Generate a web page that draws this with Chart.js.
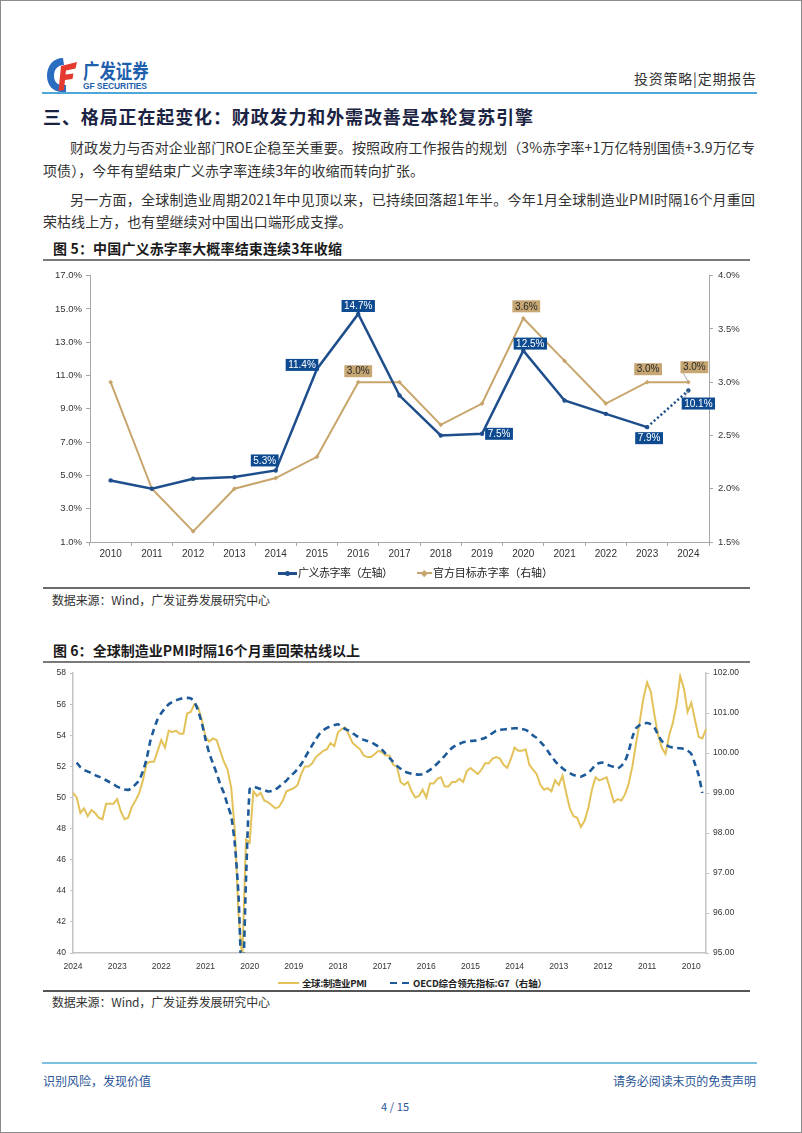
<!DOCTYPE html>
<html><head><meta charset="utf-8">
<script src="https://cdn.jsdelivr.net/npm/chart.js@4.4.1/dist/chart.umd.min.js"></script>
<style>
html,body{margin:0;padding:0;background:#fff;}
body{width:802px;height:1133px;position:relative;overflow:hidden;font-family:"Noto Sans CJK SC","Noto Sans",sans-serif;color:#333;}
.frame{position:absolute;left:0;top:0;width:800px;height:1131px;border:1px solid #8c8c8c;}
.t{position:absolute;white-space:nowrap;}
.hl{position:absolute;}
canvas{position:absolute;}
</style></head>
<body>
<div class="frame"></div>

<!-- header -->
<svg style="position:absolute;left:46px;top:57px" width="32" height="36" viewBox="0 0 32 36">
  <path d="M17 1 C7 1 1 9 1 19 C1 28 7 35 16 35 L20 35 L20 28 L16 28 C11 28 8 24 8 19 C8 12 12 8 18 8 Z" fill="#2a6cc0"/>
  <path d="M15 9 L31 5 L29.5 11.5 L20 13.5 L19.5 17.5 L27.5 16.5 L26.5 22 L19 23 L18 33 L12.5 34 Z" fill="#e53a2f"/>
</svg>
<div class="t" style="left:83px;top:61px;font-size:20px;line-height:20px;font-weight:700;color:#1f5fae;transform:scaleX(0.82);transform-origin:0 0;">广发证券</div>
<div class="t" data-w="64" style="left:83px;top:82px;font-size:8.5px;line-height:9px;font-weight:700;color:#1f5fae;font-family:'Liberation Sans',Arial,sans-serif;">GF SECURITIES</div>
<div class="t" data-w="122" style="left:634px;top:71px;font-size:14px;line-height:14px;color:#333;">投资策略|定期报告</div>
<div class="hl" style="left:42px;top:92px;width:715px;height:2px;background:#4fa6d8;"></div>

<div class="t" data-w="490" style="left:43px;top:107px;font-size:18px;line-height:18px;font-weight:700;color:#1b2342;">三、格局正在起变化：财政发力和外需改善是本轮复苏引擎</div>

<div class="t" data-w="685" style="left:70px;top:140px;font-size:14px;line-height:14px;">财政发力与否对企业部门ROE企稳至关重要。按照政府工作报告的规划（3%赤字率+1万亿特别国债+3.9万亿专</div>
<div class="t" data-w="381" style="left:43px;top:163px;font-size:14px;line-height:14px;">项债），今年有望结束广义赤字率连续3年的收缩而转向扩张。</div>
<div class="t" data-w="685" style="left:70px;top:192px;font-size:14px;line-height:14px;">另一方面，全球制造业周期2021年中见顶以来，已持续回落超1年半。今年1月全球制造业PMI时隔16个月重回</div>
<div class="t" data-w="309" style="left:43px;top:214px;font-size:14px;line-height:14px;">荣枯线上方，也有望继续对中国出口端形成支撑。</div>

<!-- figure 5 -->
<div class="t" data-w="289" style="left:53px;top:241px;font-size:14px;line-height:14px;font-weight:700;color:#1a1a1a;">图 5：中国广义赤字率大概率结束连续3年收缩</div>
<div class="hl" style="left:43px;top:259px;width:707px;height:1.5px;background:#7a7a7a;"></div>
<canvas id="c1" width="708" height="300" style="left:42px;top:265px;width:708px;height:300px;"></canvas>
<div class="hl" style="left:278px;top:572px;width:19px;height:2.5px;background:#1f4e8d;"></div>
<div class="hl" style="left:285px;top:570.5px;width:5px;height:5px;border-radius:50%;background:#1f4e8d;"></div>
<div class="t" data-w="95" style="left:298px;top:567px;font-size:11px;line-height:11px;color:#222;">广义赤字率（左轴）</div>
<div class="hl" style="left:417px;top:572px;width:15px;height:2px;background:#c8a56c;"></div>
<div class="hl" style="left:422px;top:570.5px;width:4.5px;height:4.5px;transform:rotate(45deg);background:#c8a56c;"></div>
<div class="t" data-w="120" style="left:433px;top:567px;font-size:11px;line-height:11px;color:#222;">官方目标赤字率（右轴）</div>
<div class="hl" style="left:43px;top:587px;width:707px;height:1.5px;background:#6a6a6a;"></div>
<div class="t" data-w="218" style="left:52px;top:594px;font-size:12px;line-height:12px;color:#333;">数据来源：Wind，广发证券发展研究中心</div>

<!-- figure 6 -->
<div class="t" data-w="307" style="left:53px;top:643px;font-size:14px;line-height:14px;font-weight:700;color:#1a1a1a;">图 6：全球制造业PMI时隔16个月重回荣枯线以上</div>
<div class="hl" style="left:43px;top:661px;width:707px;height:1.5px;background:#7a7a7a;"></div>
<canvas id="c2" width="708" height="310" style="left:42px;top:664px;width:708px;height:310px;"></canvas>
<div class="hl" style="left:278px;top:982px;width:21px;height:2px;background:#e3c25a;"></div>
<div class="t" data-w="65" style="left:302px;top:978px;font-size:9.5px;line-height:10px;font-weight:700;color:#222;">全球:制造业PMI</div>
<div class="hl" style="left:390px;top:981.5px;width:7px;height:2.5px;background:#1d5a99;"></div>
<div class="hl" style="left:402px;top:981.5px;width:7px;height:2.5px;background:#1d5a99;"></div>
<div class="t" data-w="134" style="left:413px;top:978px;font-size:9.5px;line-height:10px;font-weight:700;color:#222;">OECD综合领先指标:G7（右轴）</div>
<div class="hl" style="left:43px;top:990px;width:707px;height:2px;background:#555;"></div>
<div class="t" data-w="218" style="left:52px;top:996px;font-size:12px;line-height:12px;color:#333;">数据来源：Wind，广发证券发展研究中心</div>

<!-- footer -->
<div class="hl" style="left:42px;top:1062px;width:715px;height:2px;background:#7cc0e0;"></div>
<div class="t" data-w="108" style="left:43px;top:1075px;font-size:12px;line-height:12px;color:#2a5597;">识别风险，发现价值</div>
<div class="t" data-w="143" style="left:613px;top:1075px;font-size:12px;line-height:12px;color:#2a5597;">请务必阅读末页的免责声明</div>
<div class="t" data-w="28" style="left:381px;top:1101px;font-size:11px;line-height:11px;color:#2a5597;">4 / 15</div>

<script>
// ---------- Figure 5 data ----------
const years = ['2010','2011','2012','2013','2014','2015','2016','2017','2018','2019','2020','2021','2022','2023','2024'];
const broadDeficit = [4.7, 4.2, 4.8, 4.9, 5.3, 11.4, 14.7, 9.8, 7.4, 7.5, 12.5, 9.5, 8.7, 7.9, 10.1];
const officialDeficit = [3.0, 2.0, 1.6, 2.0, 2.1, 2.3, 3.0, 3.0, 2.6, 2.8, 3.6, 3.2, 2.8, 3.0, 3.0];

// ---------- Figure 6 data (monthly, newest first: Feb 2024 -> Oct 2009) ----------
const yearTicks = ['2024','2023','2022','2021','2020','2019','2018','2017','2016','2015','2014','2013','2012','2011','2010'];
const globalPMI = [
 50.3, 50.0, 49.0, 49.3, 48.8, 49.2, 49.0, 48.7, 48.6, 49.6,
 49.6, 49.6, 49.9, 49.1, 48.6, 48.7, 49.4, 49.8, 50.3, 51.1,
 52.2, 52.3, 52.3, 53.0, 53.7, 53.2, 54.3, 54.2, 54.3, 54.1,
 54.1, 55.4, 55.5, 56.0, 55.8, 55.0, 53.9, 53.6, 53.8, 53.7,
 53.0, 52.3, 51.8, 50.6, 47.8, 42.4, 39.6, 47.3, 47.1, 50.4,
 50.1, 50.3, 49.8, 49.7, 49.5, 49.3, 49.4, 49.8, 50.4, 50.5,
 50.6, 50.8, 51.5, 52.0, 52.0, 52.2, 52.6, 52.8, 53.0, 53.1,
 53.5, 53.3, 54.2, 54.4, 54.5, 54.0, 53.5, 53.3, 53.1, 52.7,
 52.6, 52.6, 52.8, 53.0, 52.9, 52.7, 52.7, 52.1, 52.0, 51.0,
 50.8, 51.0, 50.4, 50.0, 50.1, 50.5, 50.0, 50.9, 50.9, 51.2,
 51.3, 50.7, 50.7, 51.0, 51.0, 51.2, 51.0, 51.7, 51.9, 51.7,
 51.5, 51.8, 52.2, 52.2, 52.5, 52.6, 52.5, 52.1, 51.9, 52.5,
 53.2, 53.0, 53.0, 53.1, 52.1, 51.8, 51.5, 50.8, 50.5, 50.6,
 50.4, 51.1, 50.8, 51.4, 50.3, 49.3, 48.8, 48.7, 48.1, 48.5,
 49.3, 50.5, 51.3, 51.1, 51.2, 51.3, 50.5, 49.7, 49.9, 49.8,
 50.2, 50.9, 52.0, 53.5, 54.9, 56.4, 57.4, 56.8, 55.3, 54.0,
 53.2, 52.8, 54.0, 54.8, 56.0, 57.8, 57.0, 55.5, 56.1, 55.0,
 53.9, 53.8, 54.4
];
const oecdG7 = [
 null, 99.76, 99.65, 99.58, 99.54, 99.50, 99.45, 99.41, 99.37, 99.32,
 99.27, 99.22, 99.16, 99.12, 99.09, 99.08, 99.12, 99.22, 99.32, 99.55,
 99.85, 100.30, 100.60, 100.85, 101.00, 101.12, 101.22, 101.28, 101.32, 101.35,
 101.38, 101.38, 101.37, 101.28, 101.06, 100.75, 100.35, 100.00, 99.75, 99.50,
 99.22, 99.00, 98.70, 98.42, 97.70, 96.40, 94.00, 96.80, 99.10, 99.16,
 99.13, 99.10, 99.07, 99.04, 99.05, 99.09, 99.16, 99.24, 99.31, 99.42,
 99.50, 99.60, 99.72, 99.88, 100.04, 100.20, 100.35, 100.48, 100.57, 100.63,
 100.67, 100.70, 100.72, 100.66, 100.60, 100.56, 100.50, 100.43, 100.38, 100.33,
 100.30, 100.27, 100.22, 100.16, 100.08, 99.98, 99.88, 99.78, 99.68, 99.61,
 99.54, 99.51, 99.48, 99.47, 99.46, 99.47, 99.52, 99.58, 99.65, 99.74,
 99.83, 99.93, 100.04, 100.13, 100.19, 100.23, 100.27, 100.29, 100.30, 100.31,
 100.32, 100.35, 100.38, 100.44, 100.50, 100.56, 100.58, 100.59, 100.60, 100.61,
 100.62, 100.62, 100.60, 100.58, 100.52, 100.44, 100.38, 100.28, 100.18, 100.05,
 99.92, 99.80, 99.70, 99.62, 99.55, 99.50, 99.45, 99.43, 99.41, 99.45,
 99.50, 99.60, 99.70, 99.75, 99.76, 99.72, 99.68, 99.65, 99.62, 99.68,
 99.80, 100.05, 100.40, 100.62, 100.70, 100.74, 100.75, 100.72, 100.64, 100.45,
 100.30, 100.22, 100.16, 100.14, 100.13, 100.12, 100.10, 100.06, 99.98, 99.73,
 99.45, 99.00, null
];
const monthLabels = globalPMI.map((v, i) => (i % 12 === 0 && yearTicks[i / 12]) ? yearTicks[i / 12] : '');

// ---------- fit text widths ----------
document.querySelectorAll('[data-w]').forEach(el => {
  const target = +el.dataset.w;
  const w = el.getBoundingClientRect().width;
  const n = [...el.textContent].length;
  if (n > 1) el.style.letterSpacing = ((target - w) / (n - 1)) + 'px';
});

const FAM = '"Liberation Sans", Arial, sans-serif';
Chart.defaults.font.family = FAM;

// ---------- Figure 5 ----------
const BLUE = '#1f4e8d', GOLD = '#c8a56c';
const labelSpecs = [
  {ds:0, i:4,  dx:-11, dy:-10},
  {ds:0, i:5,  dx:-15, dy:-4},
  {ds:0, i:6,  dx:0,   dy:-8},
  {ds:0, i:9,  dx:17,  dy:0},
  {ds:0, i:10, dx:7,   dy:-7},
  {ds:0, i:13, dx:2,   dy:11},
  {ds:0, i:14, dx:10,  dy:13, leader:true},
  {ds:1, i:6,  dx:0,   dy:-11},
  {ds:1, i:10, dx:3,   dy:-12},
  {ds:1, i:13, dx:1,   dy:-13},
  {ds:1, i:14, dx:6,   dy:-15, leader:true}
];
const boxLabels = {
  id:'boxLabels',
  afterDatasetsDraw(chart){
    const ctx = chart.ctx;
    ctx.save();
    ctx.font = '10px ' + FAM;
    ctx.textAlign = 'center';
    ctx.textBaseline = 'middle';
    labelSpecs.forEach(s => {
      const pt = chart.getDatasetMeta(s.ds).data[s.i];
      const val = chart.data.datasets[s.ds].data[s.i];
      const txt = val.toFixed(1) + '%';
      const x = pt.x + s.dx, y = pt.y + s.dy;
      const w = ctx.measureText(txt).width + 5, h = 12;
      if (s.leader) {
        ctx.strokeStyle = '#9a9a9a'; ctx.lineWidth = 0.8;
        ctx.beginPath(); ctx.moveTo(pt.x, pt.y); ctx.lineTo(x - w/2 + 3, y + (s.dy > 0 ? -h/2 : h/2)); ctx.stroke();
      }
      ctx.fillStyle = s.ds === 0 ? '#0d4a90' : '#c6a673';
      ctx.fillRect(x - w/2, y - h/2, w, h);
      ctx.fillStyle = s.ds === 0 ? '#ffffff' : '#2a2a2a';
      ctx.fillText(txt, x, y + 0.5);
    });
    ctx.restore();
  }
};
const AX1 = '#a8a8a8';
new Chart(document.getElementById('c1'), {
  type:'line',
  data:{
    labels: years,
    datasets:[
      {label:'广义赤字率（左轴）', data:broadDeficit, yAxisID:'y', borderColor:BLUE, backgroundColor:BLUE,
       borderWidth:2.5, pointRadius:2.2, pointBorderWidth:0, tension:0,
       segment:{borderDash: c => c.p1DataIndex === years.length - 1 ? [2, 2.5] : undefined}},
      {label:'官方目标赤字率（右轴）', data:officialDeficit, yAxisID:'y1', borderColor:GOLD, backgroundColor:GOLD,
       borderWidth:2, pointRadius:2.4, pointStyle:'rectRot', pointBorderWidth:0, tension:0}
    ]
  },
  options:{
    responsive:false, animation:false, devicePixelRatio:1,
    layout:{padding:{top:8, left:0, right:0, bottom:0}},
    plugins:{legend:{display:false}, tooltip:{enabled:false}},
    scales:{
      x:{offset:true,
         grid:{display:true, offset:true, drawOnChartArea:false, drawTicks:true, tickLength:4, color:AX1},
         border:{color:AX1, width:1},
         ticks:{font:{size:10}, color:'#333', padding:2, maxRotation:0, autoSkip:false},
         afterFit:s => { s.height = 23; }},
      y:{position:'left', min:1, max:17,
         ticks:{stepSize:2, callback:v => v.toFixed(1) + '%', font:{size:9.5}, color:'#333', padding:4},
         grid:{drawOnChartArea:false, tickLength:4, color:AX1},
         border:{color:AX1, width:1},
         afterFit:s => { s.width = 48; }},
      y1:{position:'right', min:1.5, max:4,
         ticks:{stepSize:0.5, callback:v => v.toFixed(1) + '%', font:{size:9.5}, color:'#333', padding:5},
         grid:{drawOnChartArea:false, tickLength:4, color:AX1},
         border:{color:AX1, width:1},
         afterFit:s => { s.width = 41; }}
    }
  },
  plugins:[boxLabels]
});

// ---------- Figure 6 ----------
const AX2 = '#c4c4c4';
new Chart(document.getElementById('c2'), {
  type:'line',
  data:{
    labels: monthLabels,
    datasets:[
      {label:'全球:制造业PMI', data:globalPMI, yAxisID:'y', borderColor:'#e3c25a', borderWidth:2,
       pointRadius:0, tension:0, order:1},
      {label:'OECD综合领先指标:G7（右轴）', data:oecdG7, yAxisID:'y1', borderColor:'#1d5a99', borderWidth:2.6,
       borderDash:[6.5, 4.5], pointRadius:0, tension:0.2, order:0, spanGaps:false}
    ]
  },
  options:{
    responsive:false, animation:false, devicePixelRatio:1,
    layout:{padding:{top:6, left:0, right:0, bottom:0}},
    plugins:{legend:{display:false}, tooltip:{enabled:false}},
    scales:{
      x:{offset:false,
         grid:{display:false},
         border:{color:AX2, width:1.5},
         ticks:{font:{size:8.5}, color:'#333', padding:1, maxRotation:0, minRotation:0, autoSkip:false,
                callback:(v, i) => monthLabels[i]},
         afterFit:s => { s.height = 21; }},
      y:{position:'left', min:40, max:58,
         ticks:{stepSize:2, font:{size:8.5}, color:'#333', padding:4},
         grid:{drawOnChartArea:false, tickLength:3, color:AX2},
         border:{color:AX2, width:1.5},
         afterFit:s => { s.width = 31; }},
      y1:{position:'right', min:95, max:102,
         ticks:{stepSize:1, callback:v => v.toFixed(2), font:{size:8.5}, color:'#333', padding:4},
         grid:{drawOnChartArea:false, tickLength:3, color:AX2},
         border:{color:AX2, width:1.5},
         afterFit:s => { s.width = 44; }}
    }
  }
});
</script>
</body></html>
